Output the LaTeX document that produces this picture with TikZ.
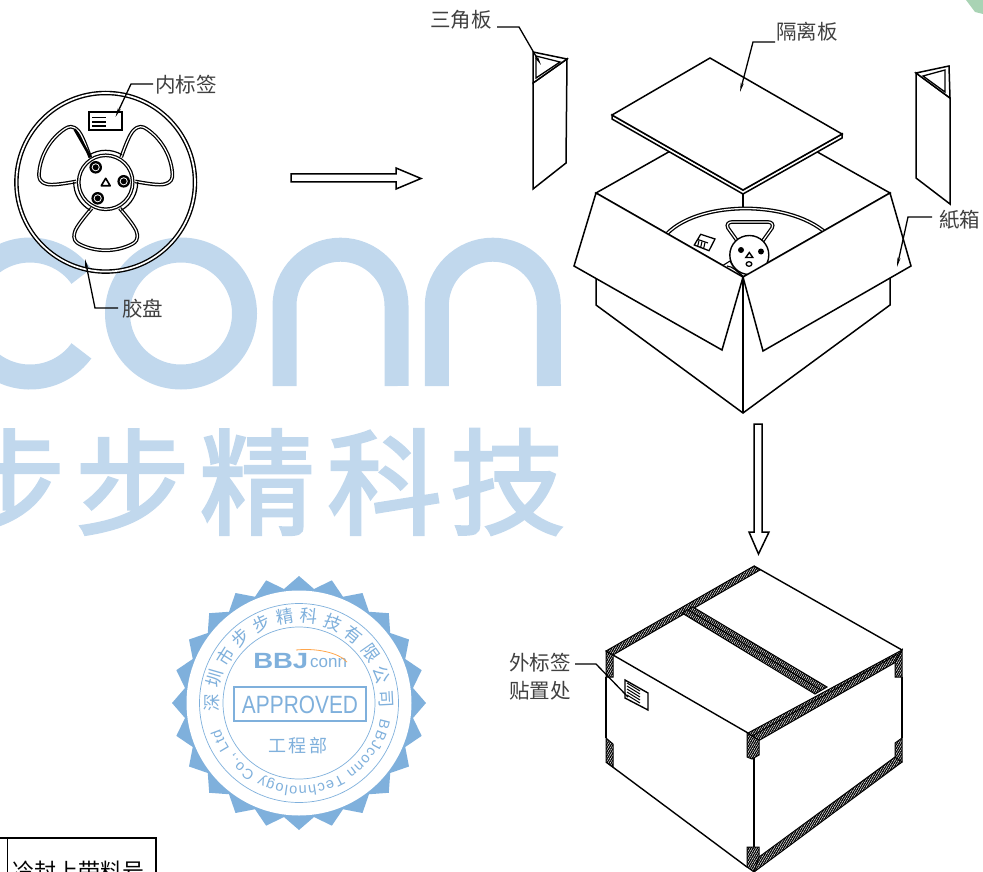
\documentclass[tikz,border=0pt]{standalone}
\usepackage{fontspec}
\setmainfont{Noto Sans CJK SC}
\newfontfamily\latinf{Liberation Sans}
\newfontfamily\wmfont[FakeBold=2.4]{Noto Sans CJK SC}
\usetikzlibrary{arrows.meta,patterns.meta,calc,decorations.text}
\definecolor{wm}{HTML}{C1D8ED}
\definecolor{stamp}{HTML}{7FB0DC}
\definecolor{ink}{HTML}{404040}
\definecolor{corner}{HTML}{A9D3B4}
\tikzset{
  x=1pt,y=-1pt,
  ln/.style={line width=1.5pt,line join=miter,black},
  face/.style={ln,fill=white},
  dbl/.style={line width=1.25pt,double=white,double distance=1.2pt,black},
  lab/.style={text=ink,inner sep=0pt,font=\fontsize{20.5}{25}\selectfont},
  leader/.style={line width=1.3pt,black},
  leadtip/.style={leader,-{Stealth[length=9pt,width=3pt]}},
  wmring/.style={line width=25pt,wm},
  wmchar/.style={text=wm,inner sep=0pt,font=\fontsize{115}{120}\selectfont\wmfont},
  tape/.style={draw=black,line width=1pt,fill=white,postaction={pattern={Lines[angle=60,distance=1.9pt,line width=1.25pt]}}},
  stline/.style={stamp,line width=.7pt},
  bigarrow/.style={line width=1.5pt,draw=black,fill=white,line join=miter},
}
\begin{document}
\begin{tikzpicture}
\useasboundingbox (0,0) rectangle (983,872);
\clip (0,0) rectangle (983,872);
% watermark
\draw[wmring] (81.4,276.2) arc[start angle=36,end angle=324,radius=63.5pt];
\draw[wmring] (181,313.5) circle[radius=63.5pt];
\draw[line width=24pt,wm] (284.5,386) -- (284.5,305.7) arc[start angle=180,end angle=0,radius=56pt] -- (396.7,386);
\draw[line width=24pt,wm] (436.8,386) -- (436.8,305.7) arc[start angle=180,end angle=0,radius=56pt] -- (549,386);
\node[wmchar] (wm1) at (8,482) {步};
\node[wmchar] (wm2) at (132.5,482) {步};
\node[wmchar] (wm3) at (257,482) {精};
\node[wmchar] (wm4) at (384.5,482) {科};
\node[wmchar] (wm5) at (507.5,482) {技};
% green corner
\fill[corner] (966,0) -- (975,12) -- (983,14) -- (983,0) -- cycle;

% reel
\coordinate (rc) at (105.7,182.3);
\draw[dbl,line width=1.4pt,double distance=1.7pt] (rc) circle[radius=89.3pt];
\foreach \r in {0,120,240}{
  \begin{scope}[shift={(rc)},rotate=\r]
    \draw[dbl] (14,26) .. controls (20,33) and (30,45) .. (31,50) .. controls (33,57) and (30,60) .. (26,62) .. controls (10,70) and (-10,70) .. (-26,62) .. controls (-30,60) and (-33,57) .. (-31,50) .. controls (-30,45) and (-20,33) .. (-14,26);
  \end{scope}
}
\foreach \r in {90,210,330}{
  \draw[line width=1.2pt] ($(rc)+(\r-31:32pt)$) arc[start angle=\r-31,end angle=\r+31,radius=32pt];
}
\draw[line width=2.6pt] ($(rc)+(-31,-53)$) -- ($(rc)+(-15,-25)$);
\draw[dbl] (rc) circle[radius=27pt];
\foreach \hx/\hy in {-10/-15,18/-1,-8/16}{
  \fill ($(rc)+(\hx,\hy)$) circle[radius=6.3pt];
  \fill[white] ($(rc)+(\hx,\hy)$) circle[radius=4pt];
  \fill ($(rc)+(\hx,\hy)$) circle[radius=3pt];
}
\draw[line width=1.6pt,line join=round] ($(rc)+(0,-4)$) -- ($(rc)+(-4.5,3.5)$) -- ($(rc)+(4.5,3.5)$) -- cycle;
\draw[line width=1.5pt,fill=white] (89,112) rectangle (122,130);
\foreach \y in {117.5,122,126}{\draw[line width=1.1pt] (92,\y) -- (106,\y);}
\node[lab,anchor=west] (innerlab) at (155,85) {内标签};
\coordinate (innerbend) at (131,84);
\coordinate (innertip) at (115.5,117);
\draw[leadtip] ($(innerlab.west)+(-2,-1)$) -- (innerbend) -- (innertip);
\node[lab,anchor=west] (reellab) at (122,309) {胶盘};
\coordinate (reelbend) at (95,308);
\coordinate (reeltip) at (85,259);
\draw[leadtip] ($(reellab.west)+(-4,-1)$) -- (reelbend) -- (reeltip);

% arrows
\draw[bigarrow] (291,174) -- (396,174) -- (396,168) -- (421,178.5) -- (396,189) -- (396,182) -- (291,182) -- cycle;
\draw[bigarrow] (754,424) -- (762,424) -- (762,532) -- (769,532) -- (758.5,554) -- (749,532) -- (754,532) -- cycle;

% left triangle plate
\draw[face] (533,83) -- (533,189) -- (566,163) -- (567,59) -- cycle;
\draw[face] (533,52) -- (567,59) -- (533,83) -- cycle;
\draw[line width=1.3pt] (536,56) -- (560,62) -- (536,78) -- cycle;
\node[lab,anchor=west] (trilab) at (430,20) {三角板};
\coordinate (tribend) at (519,27);
\coordinate (tritip) at (541,65);
\draw[leadtip] (497,27) -- (tribend) -- (tritip);

% right triangle plate
\draw[face] (916,73) -- (916,178) -- (950,204) -- (950,98) -- cycle;
\draw[face] (916,73) -- (949,66) -- (950,98) -- cycle;
\draw[line width=1.3pt] (923,76) -- (945,70) -- (945,92) -- cycle;

% open box: body
\draw[face] (596,278) -- (596,305) -- (743,413) -- (890,305) -- (890,277);
\draw[ln] (743,277) -- (743,413);
% back flaps
\draw[face] (596,193) -- (743,110) -- (890,193) -- (743,277) -- cycle;
\draw[ln] (743,190) -- (743,208);
% mini reel
\begin{scope}
  \clip (596,193) -- (743,277) -- (890,193) -- (743,120) -- cycle;
  \draw[line width=1.3pt,double=white,double distance=1.2pt] (664,237) .. controls (695,199) and (795,199) .. (830,237);
  \draw[dbl] (732,222) .. controls (729,222) and (726,224) .. (728,228) -- (738,242) -- (762,242) -- (772,228) .. controls (774,224) and (771,222) .. (768,222) -- cycle;
  \draw[line width=1.4pt,fill=white] (749.3,255) circle[radius=19.5pt];
  \fill (741,250) circle[radius=3pt];
  \fill (761,251.5) circle[radius=3pt];
  \draw[line width=1.3pt] (749,264) ellipse[x radius=2.8pt,y radius=2.3pt];
  \draw[line width=1.4pt] (749.3,252.5) -- (745.8,257.5) -- (752.8,257.5) -- cycle;
  \draw[line width=1.1pt,fill=white] (722,266) -- (730,261) .. controls (733,268) and (738,272) .. (744,278);
  \draw[line width=1.1pt] (727,266) .. controls (732,266) and (738,272) .. (744,277);
  \draw[line width=1.3pt,fill=white] (700.7,234.3) -- (715,239) -- (709,250.7) -- (694.3,245) -- cycle;
  \foreach \a/\b in {699/240.5, 702/241.5, 705/242.5}{\draw[line width=1.1pt] (\a,\b) -- ++(-1.5,6.5);}
  \draw[line width=1.1pt] (698,239.5) -- (708,243);
\end{scope}
% front flaps
\draw[face] (596,193) -- (743,277) -- (722,350) -- (574,266) -- cycle;
\draw[face] (890,193) -- (743,277) -- (763,351) -- (911,266) -- cycle;
\draw[ln] (743,277) -- (743,413);
% separator board
\draw[face] (612,115) -- (612,119) -- (743,194) -- (842,138) -- (842,134) -- (743,190) -- cycle;
\draw[face] (710,58) -- (842,134) -- (743,190) -- (612,115) -- cycle;
\node[lab,anchor=west] (seplab) at (776,32) {隔离板};
\coordinate (sepbend) at (753,42);
\coordinate (septip) at (740,92);
\draw[leadtip] (775,42) -- (sepbend) -- (septip);
\node[lab,anchor=west] (boxlab) at (939,220) {紙箱};
\coordinate (boxbend) at (908,217);
\coordinate (boxtip) at (897,267);
\draw[leadtip] (932,217) -- (boxbend) -- (boxtip);

% sealed box
\draw[line width=1.4pt] (754,566) -- (902,650);
\draw[line width=1.4pt] (613,655) -- (748,733);
\draw[line width=1.8pt] (606,677) -- (606,738);
\draw[line width=1.8pt] (902,677) -- (902,738);
\draw[line width=2.2pt] (754,757) -- (754,847);
\draw[line width=1.4pt] (606,762) -- (747,867);
\path[tape] (606,651) -- (754,566) -- (760,570) -- (613,655) -- cycle;
\path[tape] (682,613) -- (693,607) -- (827,687) -- (815,694) -- cycle;
\draw[line width=.9pt] (688,610) -- (821,690);
\path[tape] (748,733) -- (902,650) -- (896,662) -- (758,741) -- cycle;
\draw[line width=.9pt] (752,736) -- (898,654);
\path[tape] (606,651) -- (613,655) -- (613,677) -- (606,677) -- cycle;
\path[tape] (606,738) -- (613,744) -- (613,767) -- (606,762) -- cycle;
\path[tape] (747,733) -- (759,740) -- (759,755) -- (752,759) -- (747,757) -- cycle;
\path[tape] (747,847) -- (759,847) -- (759,865) -- (754,872) -- (747,867) -- cycle;
\path[tape] (902,650) -- (902,677) -- (895,677) -- (895,662) -- cycle;
\path[tape] (902,738) -- (902,762) -- (895,766) -- (895,743) -- cycle;
\path[tape] (902,762) -- (754,872) -- (759,857) -- (895,757) -- cycle;
% outer label
\draw[line width=1.4pt,fill=white] (625,680) -- (648,693) -- (648,710) -- (625,698) -- cycle;
\foreach \d in {0,3,6,9,12}{\draw[line width=1pt] (627,683+\d) -- (640,691+\d);}
\node[lab,anchor=west] (outlab1) at (509,663) {外标签};
\node[lab,anchor=west] (outlab2) at (509,691) {贴置处};
\coordinate (outbend) at (596,664);
\coordinate (outtip) at (628,697);
\draw[leader] (575,664) -- (outbend) -- (outtip);

% stamp
\fill[stamp] plot[samples=49,domain=0:360] ({299+(121+6*cos(24*\x))*cos(\x)},{703+(121+6*cos(24*\x))*sin(\x)}) -- cycle;
\fill[white] (299,703) circle[radius=112.5pt];
\draw[stline] (299,703) circle[radius=99.5pt];
\draw[stline] (299,703) circle[radius=76pt];
\foreach \ch [count=\i from 0] in {深,圳,市,步,步,精,科,技,有,限,公,司}{
  \pgfmathsetmacro\ang{180-16.1*\i}
  \node[text=stamp,inner sep=0pt,rotate=\ang-90,font=\fontsize{17.5}{17.5}\selectfont] (st\i) at ({299+87.5*cos(\ang)},{703-87.5*sin(\ang)}) {\ch};
}
\path[decorate,decoration={text along path,text align=fit to path,text={|\fontsize{14.5}{14.5}\selectfont\latinf\color{stamp}|BBJconn Technology Co., Ltd}}] (380.5,718.8) arc[start angle=-11,end angle=-162,radius=83pt];
\node[draw=stamp,line width=1.2pt,minimum width=132pt,minimum height=34pt,inner sep=0pt] (apbox) at (300,704) {};
\begin{scope}[shift={(300,704.5)},xscale=.835]
\node[text=stamp,inner sep=0pt,transform shape,font=\fontsize{25}{25}\selectfont\latinf] (aptext) at (0,0) {APPROVED};
\end{scope}
\node[text=stamp,inner sep=0pt,font=\fontsize{18}{18}\selectfont] (dept) at (298,746) {工\,程\,部};
\begin{scope}[shift={(253,661)},xscale=1.25]
\node[text=stamp,inner sep=0pt,transform shape,anchor=west,font=\fontsize{22}{22}\selectfont\latinf\bfseries] (logob) at (0,0) {BBJ};
\end{scope}
\node[text=stamp,inner sep=0pt,anchor=west,font=\fontsize{17}{17}\selectfont\latinf] (logoc) at (310,663) {conn};
\draw[orange!70!white,line width=.8pt] (296,650) .. controls (315,648) and (338,652) .. (347,662);

% table fragment
\draw[line width=1.4pt] (0,838) -- (156,838) -- (156,872);
\draw[line width=1.4pt] (7.5,838) -- (7.5,872);
\node[text=black,inner sep=0pt,anchor=west,font=\fontsize{22}{26}\selectfont] (tabtext) at (12,871) {冷封上带料号};
\end{tikzpicture}
\end{document}
